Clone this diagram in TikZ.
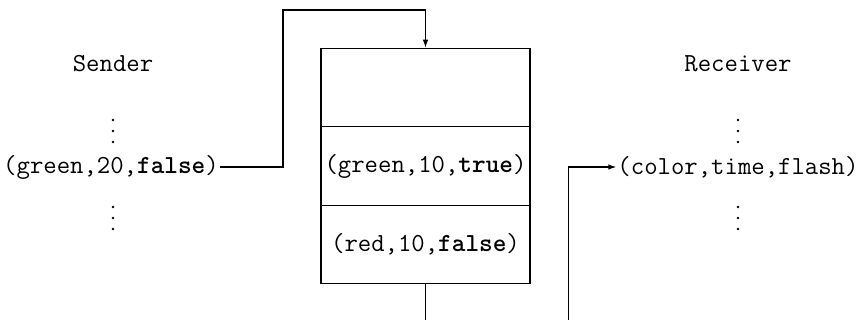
\documentclass[tikz,border=0pt]{standalone}
\usetikzlibrary{arrows.meta}
\begin{document}
\begin{tikzpicture}[x=1pt,y=-1pt,
  lbl/.style={font=\fontsize{26}{30}\selectfont\ttfamily, inner sep=1pt},
  cell/.style={draw, line width=1.1pt, minimum width=209pt, minimum height=78.5pt, inner sep=0pt, font=\fontsize{26}{30}\selectfont\ttfamily},
  conn/.style={line width=1.1pt},
  tip/.style={-{Latex[length=8pt,width=5.5pt]}},
  dot/.style={circle, fill, inner sep=0pt, minimum size=2.8pt}
]
\useasboundingbox (0,0) rectangle (867,320);
% Sender
\node[lbl] (sender) at (113,64) {Sender};
\node[dot] (sd1) at (113,120) {};
\node[dot] (sd2) at (113,131) {};
\node[dot] (sd3) at (113,142) {};
\node[lbl] (stuple) at (111,167) {(green,20,\textbf{false})};
\node[dot] (sd4) at (113,207) {};
\node[dot] (sd5) at (113,218) {};
\node[dot] (sd6) at (113,229) {};
% Buffer
\node[cell] (c1) at (425.5,87.5) {};
\node[cell] (c2) at (425.5,166) {(green,10,\textbf{true})};
\node[cell] (c3) at (425.5,244.5) {(red,10,\textbf{false})};
% Receiver
\node[lbl] (receiver) at (738,64) {Receiver};
\node[dot] (rd1) at (738,120) {};
\node[dot] (rd2) at (738,131) {};
\node[dot] (rd3) at (738,142) {};
\node[lbl, inner sep=1pt] (rtuple) at (738,167) {(color,time,flash)};
\node[dot] (rd4) at (738,207) {};
\node[dot] (rd5) at (738,218) {};
\node[dot] (rd6) at (738,229) {};
% connectors
\coordinate (ul) at (283,10);
\coordinate (cb) at (425.5,320);
\coordinate (rb) at (568.7,320);
\draw[conn,tip] (stuple.east) -- (stuple.east -| ul) -- (ul) -| (c1.north);
\draw[conn] (c3.south) -- (cb);
\draw[conn,tip] (rb) |- (rtuple.west);
\end{tikzpicture}
\end{document}
